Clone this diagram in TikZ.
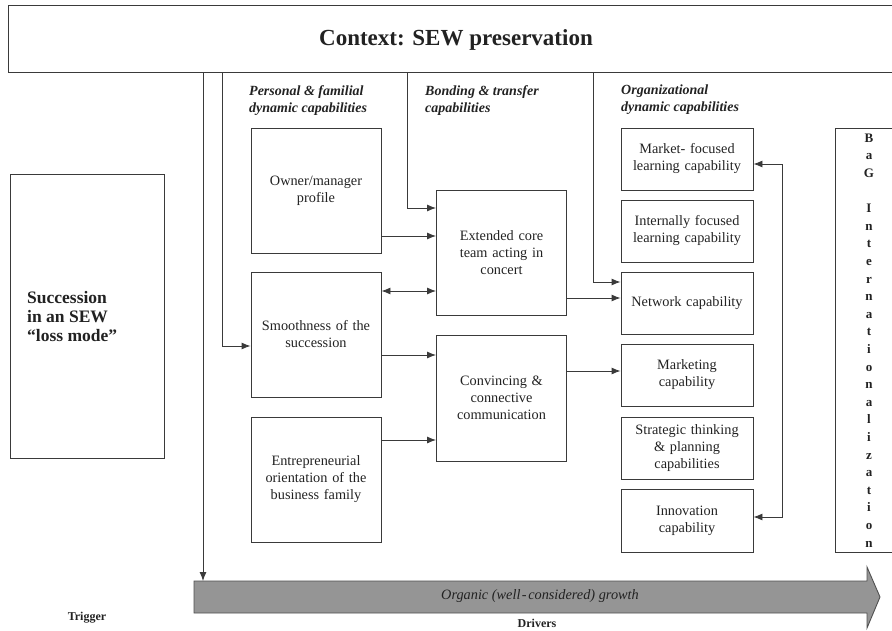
\documentclass[tikz,border=0pt]{standalone}
\usepackage{fontspec}
\setmainfont{Liberation Serif}
\usetikzlibrary{arrows.meta}
\definecolor{linec}{HTML}{3A3A3A}
\definecolor{txt}{HTML}{222222}
\definecolor{arrfill}{HTML}{959595}
\definecolor{arrdraw}{HTML}{505050}
\begin{document}
\begin{tikzpicture}[x=1pt,y=-1pt,
  box/.style={draw=linec, line width=0.9pt, text=txt, align=center,
    font=\fontsize{14.3}{17}\selectfont, inner sep=2pt},
  pbox/.style={box, minimum width=130pt, minimum height=125pt, text width=126pt},
  obox/.style={box, minimum width=130pt, minimum height=62pt, text width=128pt},
  head/.style={text=txt, align=left, anchor=north west, inner sep=0pt,
    font=\fontsize{14}{17}\selectfont\bfseries\itshape},
  conn/.style={draw=linec, line width=0.9pt},
  arr/.style={conn, -{Latex[length=9pt,width=7pt]}},
  darr/.style={conn, {Latex[length=9pt,width=7pt]}-{Latex[length=9pt,width=7pt]}},
  lbl/.style={text=txt, inner sep=0pt, font=\fontsize{12}{14}\selectfont\bfseries}
]
\useasboundingbox (0,0) rectangle (892,631);
\begin{scope}
\clip (0,0) rectangle (892,631);

% context
\node[draw=linec, line width=0.9pt, minimum width=894pt, minimum height=67pt, inner sep=0pt] (ctx) at (455,38.5) {};
\node[text=txt, font=\fontsize{23}{27}\selectfont\bfseries, inner sep=0pt] (ctxt) at (456,40) {Context: SEW preservation};

% trigger box
\node[draw=linec, line width=0.9pt, minimum width=154pt, minimum height=284pt, inner sep=0pt] (succ) at (87,316) {};
\node[text=txt, align=left, anchor=west, inner sep=0pt,
  font=\fontsize{17.5}{19}\selectfont\bfseries] (succt) at (27,317) {Succession\\in an SEW\\``loss mode''};

% headings
\node[head] (h1) at (249,85) {Personal \& familial\\dynamic capabilities};
\node[head] (h2) at (425,85) {Bonding \& transfer\\capabilities};
\node[head] (h3) at (621,85) {Organizational\\dynamic capabilities};

% personal boxes
\node[pbox] (owner) at (316,190.5) {Owner/manager\\profile};
\node[pbox] (smooth) at (316,334.5) {Smoothness of the\\succession};
\node[pbox] (entre) at (316,479.5) {Entrepreneurial\\orientation of the\\business family};

% bonding boxes
\node[pbox, minimum width=129pt] (ext) at (501.5,253) {Extended core\\team acting in\\concert};
\node[pbox, minimum width=129pt, minimum height=126pt] (conv) at (501.5,398) {Convincing \&\\connective\\communication};

% organizational boxes
\node[obox] (mkt) at (687,159) {Market- focused\\learning capability};
\node[obox] (intl) at (687,231) {Internally focused\\learning capability};
\node[obox] (net) at (687,303) {Network capability};
\node[obox] (mktg) at (687,375) {Marketing\\capability};
\node[obox] (strat) at (687,448) {Strategic thinking\\\& planning\\capabilities};
\node[obox, minimum height=63pt] (innov) at (687,520.5) {Innovation\\capability};

% BaG internationalization box
\node[draw=linec, line width=0.9pt, minimum width=70pt, minimum height=424pt, inner sep=0pt] (bag) at (870,340) {};
\node[text=txt, align=center, anchor=north, inner sep=0pt,
  font=\fontsize{13}{17.6}\selectfont\bfseries] (bagt) at (869,133.5)
  {B\\a\\G\\\mbox{}\\I\\n\\t\\e\\r\\n\\a\\t\\i\\o\\n\\a\\l\\i\\z\\a\\t\\i\\o\\n};

% growth arrow
\draw[draw=arrdraw, fill=arrfill, line width=0.9pt] (194,581) -- (867,581) -- (867,567) -- (880,597)
  -- (867,628) -- (867,613) -- (194,613) -- cycle;
\coordinate (growth) at (203,581);
\node[text=txt, inner sep=0pt, font=\fontsize{14.3}{17}\selectfont\itshape] (org) at (540,596)
  {Organic (well\kern1.5pt-\kern1.5pt considered) growth};
\node[lbl] (drv) at (537,623) {Drivers};
\node[lbl] (trg) at (87,618) {Trigger};

% connectors from context
\draw[arr] (203,0 |- ctx.south) -- (growth);
\draw[arr] (222,0 |- ctx.south) |- (smooth.west |- 0,346);
\draw[arr] (407.5,0 |- ctx.south) |- (ext.west |- 0,208);
\draw[arr] (593,0 |- ctx.south) |- (net.west |- 0,282);

% internal connectors
\draw[arr] (owner.east |- 0,236) -- (ext.west |- 0,236);
\draw[darr] (smooth.east |- 0,291) -- (ext.west |- 0,291);
\draw[arr] (smooth.east |- 0,355) -- (conv.west |- 0,355);
\draw[arr] (entre.east |- 0,440) -- (conv.west |- 0,440);
\draw[arr] (ext.east |- 0,298) -- (net.west |- 0,298);
\draw[arr] (conv.east |- 0,371) -- (mktg.west |- 0,371);

% feedback
\coordinate (fb1) at (782,164);
\coordinate (fb2) at (782,517);
\draw[darr] (mkt.east |- fb1) -- (fb1) -- (fb2) -- (innov.east |- fb2);
\end{scope}
\end{tikzpicture}
\end{document}
